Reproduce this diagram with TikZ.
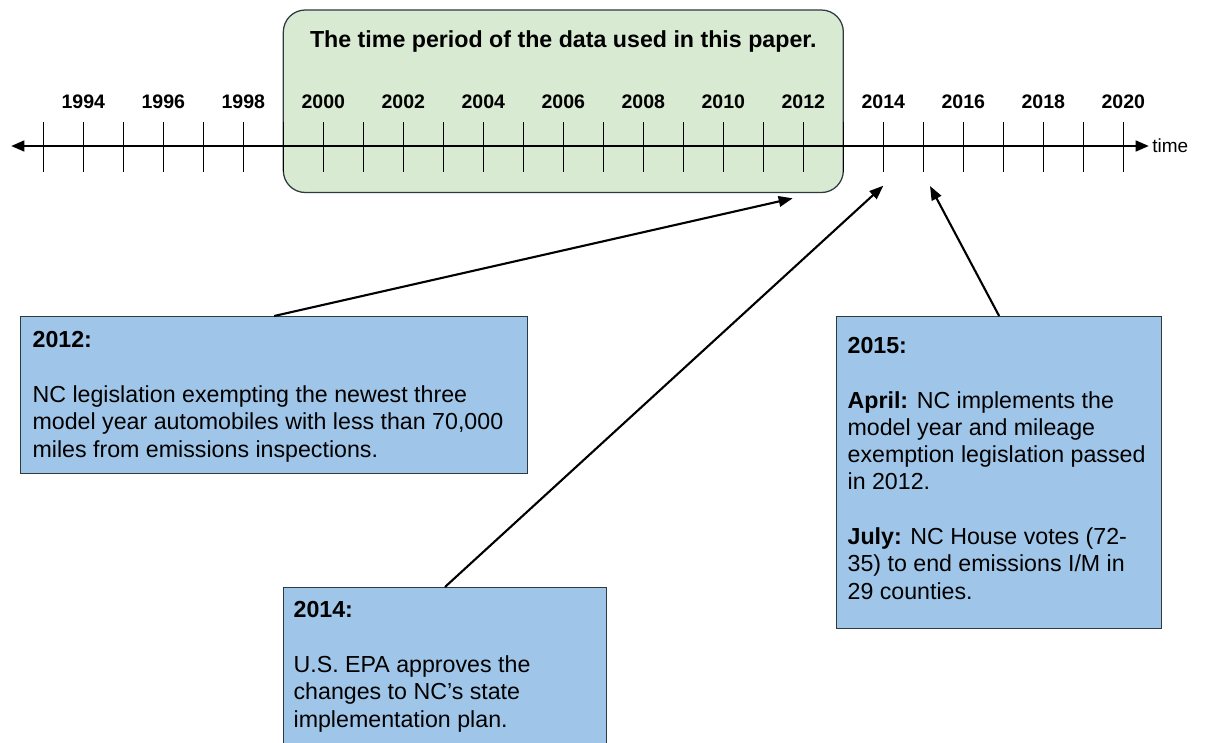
\documentclass[tikz,border=0pt]{standalone}
\usepackage{fontspec}
\setmainfont{Liberation Sans}
\usepackage{tikz}
\usetikzlibrary{arrows.meta,positioning}
\usepackage{xcolor}

\definecolor{periodgreen}{HTML}{D9EAD3}
\definecolor{eventblue}{HTML}{9FC5E8}
\definecolor{boxline}{HTML}{2E3940}

\newcommand{\eventfont}{\fontsize{16.5}{19.4}\selectfont}

\tikzset{
  yeartick/.style={line width=0.8pt},
  yearlabel/.style={font=\fontsize{13.9}{16}\selectfont\bfseries, anchor=base, inner sep=0pt},
  axisarrow/.style={{Triangle[length=9.5pt,width=7.5pt]}-{Triangle[length=9.5pt,width=7.5pt]}, line width=2pt},
  periodbox/.style={fill=periodgreen, draw=boxline, line width=0.9pt, rounded corners=15.6pt},
  eventbox/.style={fill=eventblue, draw=boxline, line width=0.9pt, anchor=north west, inner sep=0pt},
  eventtext/.style={font=\eventfont, anchor=base west, align=left, inner sep=0pt},
  eventarrow/.style={-{Triangle[length=10pt,width=7.5pt]}, line width=1.5pt}
}

\begin{document}
\begin{tikzpicture}
\useasboundingbox (-1.083333,3.650000) rectangle (29.041667,-14.900000);

%Period of the data
\filldraw[periodbox] (6.000000,3.400000) rectangle (20.000000,-1.162500);
\node[font=\fontsize{16.5}{19}\selectfont\bfseries, anchor=base, inner sep=0pt] (period) at (13.000000,2.475000) {The time period of the data used in this paper.};

%Time axis
\coordinate (axisstart) at (-0.808333,0.000000);
\coordinate (axisend) at (27.641667,0.000000);
\draw[axisarrow] (axisstart) -- (axisend);
\node[font=\fontsize{13.5}{16}\selectfont, anchor=west, inner sep=0pt, right=0.075cm of axisend] (timelabel) {time};

%Year ticks
\draw[yeartick] (0.000000,0.600000) -- (0.000000,-0.650000);
\draw[yeartick] (1.000000,0.600000) -- (1.000000,-0.650000);
\draw[yeartick] (2.000000,0.600000) -- (2.000000,-0.650000);
\draw[yeartick] (3.000000,0.600000) -- (3.000000,-0.650000);
\draw[yeartick] (4.000000,0.600000) -- (4.000000,-0.650000);
\draw[yeartick] (5.000000,0.600000) -- (5.000000,-0.650000);
\draw[yeartick] (6.000000,0.600000) -- (6.000000,-0.650000);
\draw[yeartick] (7.000000,0.600000) -- (7.000000,-0.650000);
\draw[yeartick] (8.000000,0.600000) -- (8.000000,-0.650000);
\draw[yeartick] (9.000000,0.600000) -- (9.000000,-0.650000);
\draw[yeartick] (10.000000,0.600000) -- (10.000000,-0.650000);
\draw[yeartick] (11.000000,0.600000) -- (11.000000,-0.650000);
\draw[yeartick] (12.000000,0.600000) -- (12.000000,-0.650000);
\draw[yeartick] (13.000000,0.600000) -- (13.000000,-0.650000);
\draw[yeartick] (14.000000,0.600000) -- (14.000000,-0.650000);
\draw[yeartick] (15.000000,0.600000) -- (15.000000,-0.650000);
\draw[yeartick] (16.000000,0.600000) -- (16.000000,-0.650000);
\draw[yeartick] (17.000000,0.600000) -- (17.000000,-0.650000);
\draw[yeartick] (18.000000,0.600000) -- (18.000000,-0.650000);
\draw[yeartick] (19.000000,0.600000) -- (19.000000,-0.650000);
\draw[yeartick] (20.000000,0.600000) -- (20.000000,-0.650000);
\draw[yeartick] (21.000000,0.600000) -- (21.000000,-0.650000);
\draw[yeartick] (22.000000,0.600000) -- (22.000000,-0.650000);
\draw[yeartick] (23.000000,0.600000) -- (23.000000,-0.650000);
\draw[yeartick] (24.000000,0.600000) -- (24.000000,-0.650000);
\draw[yeartick] (25.000000,0.600000) -- (25.000000,-0.650000);
\draw[yeartick] (26.000000,0.600000) -- (26.000000,-0.650000);
\draw[yeartick] (27.000000,0.600000) -- (27.000000,-0.650000);

%Year labels
\node[yearlabel] (y1994) at (1.000000,0.950000) {1994};
\node[yearlabel] (y1996) at (3.000000,0.950000) {1996};
\node[yearlabel] (y1998) at (5.000000,0.950000) {1998};
\node[yearlabel] (y2000) at (7.000000,0.950000) {2000};
\node[yearlabel] (y2002) at (9.000000,0.950000) {2002};
\node[yearlabel] (y2004) at (11.000000,0.950000) {2004};
\node[yearlabel] (y2006) at (13.000000,0.950000) {2006};
\node[yearlabel] (y2008) at (15.000000,0.950000) {2008};
\node[yearlabel] (y2010) at (17.000000,0.950000) {2010};
\node[yearlabel] (y2012) at (19.000000,0.950000) {2012};
\node[yearlabel] (y2014) at (21.000000,0.950000) {2014};
\node[yearlabel] (y2016) at (23.000000,0.950000) {2016};
\node[yearlabel] (y2018) at (25.000000,0.950000) {2018};
\node[yearlabel] (y2020) at (27.000000,0.950000) {2020};

%Event 2012
\node[eventbox, minimum width=12.675cm, minimum height=3.925cm] (box1) at (-0.583333,-4.250000) {};
\node[eventtext] (box1text) at (-0.275000,-7.775000) {\textbf{2012:}\\[19.4pt]NC legislation exempting the newest three\\model year automobiles with less than 70,000\\miles from emissions inspections.};

%Event 2014
\node[eventbox, minimum width=8.066667cm, minimum height=4.400000cm] (box2) at (5.991667,-11.025000) {};
\node[eventtext] (box2text) at (6.250000,-14.525000) {\textbf{2014:}\\[19.4pt]U.S. EPA approves the\\changes to NC’s state\\implementation plan.};

%Event 2015
\node[eventbox, minimum width=8.125000cm, minimum height=7.800000cm] (box3) at (19.816667,-4.250000) {};
\node[eventtext] (box3text) at (20.100000,-11.325000) {\textbf{2015:}\\[19.4pt]\textbf{April:} NC implements the\\model year and mileage\\exemption legislation passed\\in 2012.\\[19.4pt]\textbf{July:} NC House votes (72-\\35) to end emissions I/M in\\29 counties.};

%Pointers to the axis
\coordinate (tip1) at (18.734167,-1.307500);
\coordinate (tip2) at (21.000000,-0.992500);
\coordinate (tip3) at (22.166667,-1.000000);
\draw[eventarrow] (box1.north) -- (tip1);
\draw[eventarrow] (box2.north) -- (tip2);
\draw[eventarrow] (box3.north) -- (tip3);
\end{tikzpicture}
\end{document}
